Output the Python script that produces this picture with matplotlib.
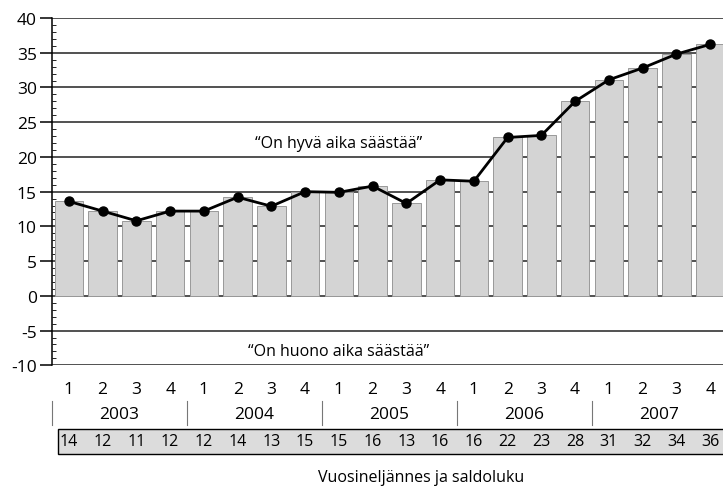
import matplotlib
matplotlib.use('Agg')
import matplotlib.pyplot as plt
from matplotlib.patches import Rectangle
from matplotlib.ticker import MultipleLocator
import numpy as np

plt.rcParams['font.family'] = ['Open Sans', 'DejaVu Sans']
plt.rcParams['axes.unicode_minus'] = False

# Saldoluku per quarter
values = [13.6, 12.2, 10.8, 12.2, 12.2, 14.2, 12.9, 15.0, 14.9, 15.8,
          13.3, 16.7, 16.5, 22.8, 23.1, 28.0, 31.1, 32.8, 34.8, 36.2]
table_labels = ['14', '12', '11', '12', '12', '14', '13', '15', '15', '16',
                '13', '16', '16', '22', '23', '28', '31', '32', '34', '36']
quarters = ['1', '2', '3', '4'] * 5
years = ['2003', '2004', '2005', '2006', '2007']
y_ticks = [40, 35, 30, 25, 20, 15, 10, 5, 0, -5, -10]

x = np.arange(len(values))

fig = plt.figure(figsize=(7.23, 4.89), dpi=100)
ax = fig.add_axes([52 / 723, 1 - 366.3 / 489, 675 / 723, 347.3 / 489])

ax.bar(x, values, width=0.85, color='#d4d4d4', edgecolor='#999999', linewidth=0.7, zorder=2)
ax.plot(x, values, color='black', lw=2, marker='o', ms=6.5, zorder=3)

ax.set_xlim(-0.5, 19.5)
ax.set_ylim(-10, 40)
ax.set_yticks(y_ticks)
ax.yaxis.set_minor_locator(MultipleLocator(1))
ax.set_xticks([])
for yv in y_ticks:
    ax.axhline(yv, color='#222222', lw=1.1, zorder=1)

for s in ['top', 'right', 'bottom']:
    ax.spines[s].set_visible(False)
ax.spines['left'].set_linewidth(1.1)
ax.tick_params(axis='y', which='major', direction='out', length=9, width=1.1, pad=2, labelsize=12.5)
ax.tick_params(axis='y', which='minor', direction='in', length=3, width=0.6)

ax.text(8.0, 22.0, '\u201cOn hyvä aika säästää\u201d', ha='center', va='center', fontsize=11.5)
ax.text(8.0, -7.95, '\u201cOn huono aika säästää\u201d', ha='center', va='center', fontsize=11.5)

# quarter numbers
for xi, q in zip(x, quarters):
    ax.text(xi, -13.4, q, ha='center', va='center', fontsize=12.5, clip_on=False)

# year labels and separators
for i, yr in enumerate(years):
    ax.text(i * 4 + 1.5, -17.0, yr, ha='center', va='center', fontsize=12.5, clip_on=False)
    ax.plot([i * 4 - 0.5, i * 4 - 0.5], [-15.2, -18.6], color='#777777', lw=0.8, clip_on=False)

# value table
ax.add_patch(Rectangle((-0.32, -22.8), 20.5, 3.6, facecolor='#dcdcdc', edgecolor='black',
                       lw=1.0, clip_on=False))
for xi, lab in zip(x, table_labels):
    ax.text(xi, -20.95, lab, ha='center', va='center', fontsize=11.5, clip_on=False)

ax.text(10.45, -26.1, 'Vuosineljännes ja saldoluku', ha='center', va='center',
        fontsize=11.5, clip_on=False)

fig.savefig('out.png', dpi=100)
